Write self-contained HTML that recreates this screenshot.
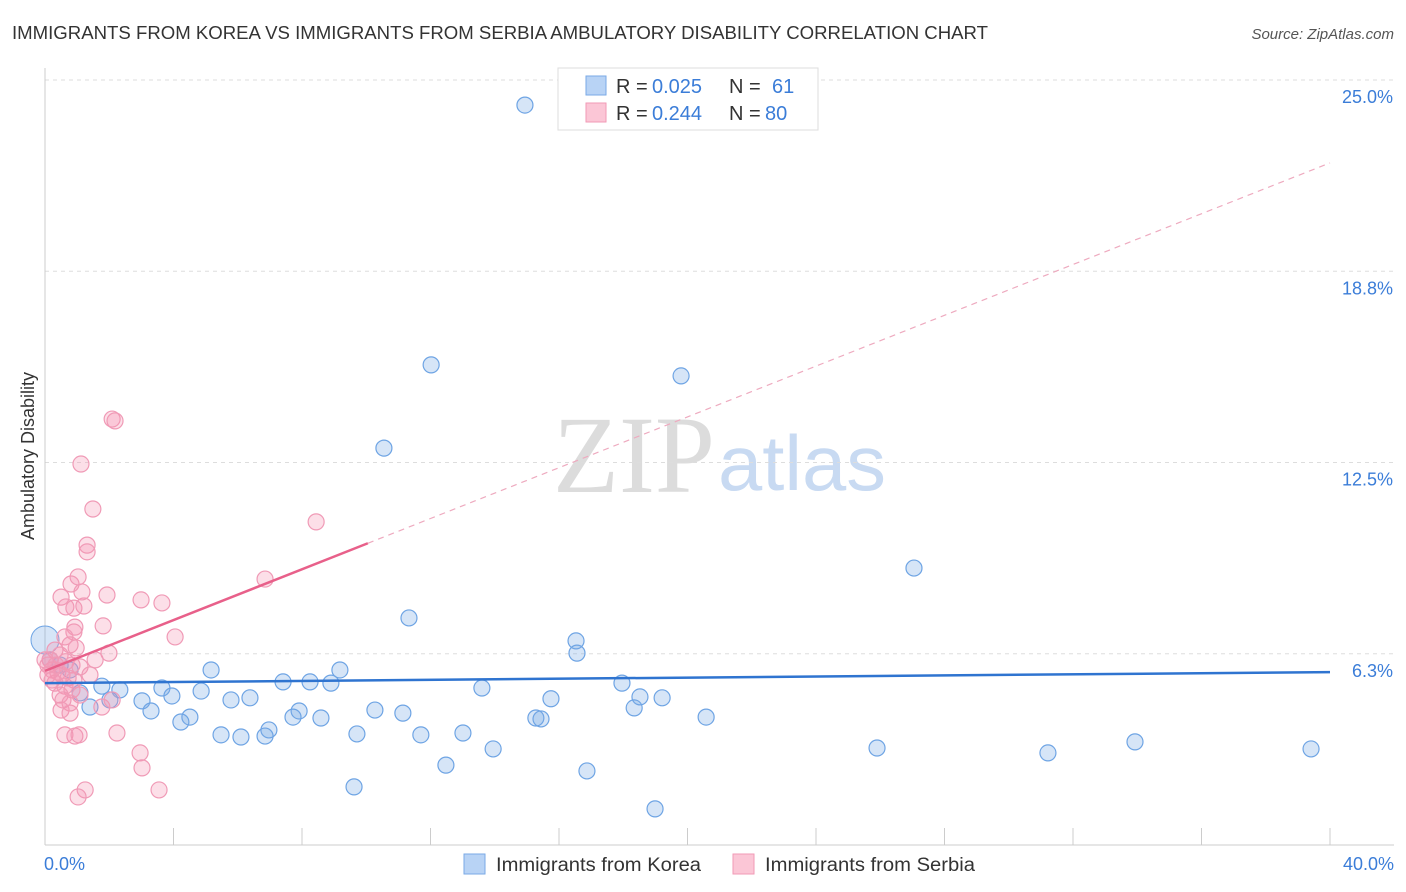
<!DOCTYPE html>
<html><head><meta charset="utf-8">
<style>
body{margin:0;background:#fff;font-family:"Liberation Sans",sans-serif;}
#wrap{position:relative;width:1406px;height:892px;overflow:hidden;}
</style></head>
<body>
<div id="wrap">
<svg id="svg" width="1406" height="892" xmlns="http://www.w3.org/2000/svg">
<text x="12" y="39" font-size="18" fill="#333" textLength="976" lengthAdjust="spacingAndGlyphs">IMMIGRANTS FROM KOREA VS IMMIGRANTS FROM SERBIA AMBULATORY DISABILITY CORRELATION CHART</text>
<text x="1394" y="39" font-size="15" fill="#555" font-style="italic" text-anchor="end">Source: ZipAtlas.com</text>
<text x="553" y="492" font-size="110" fill="#dcdcdc" font-family="Liberation Serif, serif" textLength="162" lengthAdjust="spacingAndGlyphs">ZIP</text>
<text x="718" y="490" font-size="78" fill="#c8daf2" textLength="168" lengthAdjust="spacingAndGlyphs">atlas</text>
<text x="34" y="456" font-size="18" fill="#333" text-anchor="middle" transform="rotate(-90 34 456)">Ambulatory Disability</text>
<g id="grid"></g><g id="axes"></g><g id="pts"></g><g id="lines"></g>
<g>
<rect x="558" y="68" width="260" height="62" fill="#fff" stroke="#ddd"/>
<rect x="586" y="76" width="20" height="19" fill="#b8d3f5" stroke="#7aaae6"/>
<rect x="586" y="103" width="20" height="19" fill="#fbc6d6" stroke="#f29ab6"/>
<text x="616" y="93" font-size="20" fill="#333">R =</text>
<text x="652" y="93" font-size="20" fill="#3b7dd8">0.025</text>
<text x="729" y="93" font-size="20" fill="#333">N =</text>
<text x="772" y="93" font-size="20" fill="#3b7dd8">61</text>
<text x="616" y="120" font-size="20" fill="#333">R =</text>
<text x="652" y="120" font-size="20" fill="#3b7dd8">0.244</text>
<text x="729" y="120" font-size="20" fill="#333">N =</text>
<text x="765" y="120" font-size="20" fill="#3b7dd8">80</text>
</g>
<g>
<rect x="464" y="854" width="21" height="20" fill="#b8d3f5" stroke="#7aaae6"/>
<text x="496" y="871" font-size="19" fill="#333" textLength="205" lengthAdjust="spacingAndGlyphs">Immigrants from Korea</text>
<rect x="733" y="854" width="21" height="20" fill="#fbc6d6" stroke="#f29ab6"/>
<text x="765" y="871" font-size="19" fill="#333" textLength="210" lengthAdjust="spacingAndGlyphs">Immigrants from Serbia</text>
</g>
</svg>
</div>
<script>
const yTicks=[25.0,18.8,12.5,6.3];
const yTickVals=[25,18.75,12.5,6.25];
const xTickLabels=["0.0%","40.0%"];
const koreaX=[14.94,12.02,19.80,10.55,27.05,11.33,16.53,16.56,5.17,9.18,7.41,8.25,8.90,1.77,3.64,2.33,1.09,17.96,13.60,4.86,3.02,3.95,6.38,5.79,15.75,18.52,19.21,2.02,1.40,3.30,10.27,7.91,11.14,18.34,7.72,8.59,4.51,4.23,15.28,15.44,20.58,6.97,6.85,5.48,6.10,9.71,11.70,13.01,13.95,25.90,31.22,33.93,39.41,12.48,16.87,9.62,18.99,0.16,0.47,0.78];
const koreaY=[24.18,15.69,15.33,12.97,9.05,7.42,6.67,6.27,5.72,5.72,5.33,5.33,5.29,5.19,5.13,5.07,4.97,5.29,5.13,5.03,4.71,4.87,4.81,4.74,4.78,4.84,4.81,4.74,4.51,4.38,4.41,4.38,4.31,4.48,4.18,4.15,4.18,4.02,4.15,4.12,4.18,3.76,3.56,3.60,3.53,3.63,3.60,3.66,3.14,3.17,3.01,3.37,3.14,2.61,2.42,1.90,1.18,6.05,5.88,5.72];
const serbiaX=[2.09,2.18,1.12,1.49,8.44,1.31,1.31,6.85,0.81,1.03,0.50,1.93,2.99,3.64,0.65,0.90,1.21,1.15,1.81,0.93,0.90,4.05,0.62,0.78,0.97,1.99,0.31,0.47,0.16,1.56,0.65,0.84,1.09,0.09,0.22,0.40,0.53,0.72,0.90,1.40,0.31,0.62,0.84,1.09,0.47,0.56,0.78,1.77,2.09,0.50,0.78,2.24,0.62,0.93,1.06,2.96,3.02,3.55,1.25,1.03,0,0.09,0.22,0.34];
const serbiaY=[13.92,13.86,12.45,10.98,10.56,9.80,9.58,8.69,8.53,8.76,8.10,8.17,8.01,7.91,7.78,7.74,7.81,8.27,7.16,7.12,6.96,6.80,6.80,6.54,6.44,6.27,6.37,6.21,6.05,6.05,5.99,5.88,5.82,5.88,5.72,5.65,5.56,5.46,5.39,5.56,5.29,5.19,5.07,4.90,4.90,4.74,4.64,4.51,4.74,4.41,4.31,3.66,3.60,3.56,3.60,3.01,2.52,1.80,1.80,1.57,6.05,5.56,5.39,5.88];
const koreaTrend=[5.29,5.65];
const serbiaTrend=[5.69,22.29];
const serbiaSolidEnd=10.05;
const NS="http://www.w3.org/2000/svg";
const X=v=>45+v/40*1285, Y=v=>80+(25-v)/25*765;
function mk(t,a,p){const e=document.createElementNS(NS,t);for(const k in a)e.setAttribute(k,a[k]);p.appendChild(e);return e;}
const grid=document.getElementById('grid'),axes=document.getElementById('axes'),pts=document.getElementById('pts'),lines=document.getElementById('lines');
yTickVals.forEach((v,i)=>{
 const l=mk('line',{x1:45,x2:1394,y1:Y(v),y2:Y(v),stroke:'#ddd','stroke-dasharray':'4,4'},grid);
 
 
 const t=mk('text',{x:1393,y:Y(v)+23,'font-size':18,fill:'#3b7dd8','text-anchor':'end'},axes);
 t.textContent=yTicks[i].toFixed(1)+'%';
 
 
});
const ax=mk('line',{x1:45,x2:45,y1:68,y2:845,stroke:'#ccc'},axes);


const bx=mk('line',{x1:45,x2:1394,y1:845,y2:845,stroke:'#ccc'},axes);


for(let i=0;i<=10;i++){const t=mk('line',{x1:X(i*4),x2:X(i*4),y1:828,y2:845,stroke:'#ccc'},axes);
 
 }
[[0,'start',44],[40,'end',1394]].forEach((d,i)=>{const t=mk('text',{x:d[2],y:870,'font-size':18,fill:'#3b7dd8','text-anchor':d[1]},axes);t.textContent=xTickLabels[i];
 
 });
koreaX.forEach((x,i)=>{const c=mk('circle',{cx:X(x),cy:Y(koreaY[i]),r:8,fill:'rgba(120,170,230,0.3)',stroke:'#6ea4e4','stroke-width':1.2},pts);
 
 });
const big=mk('circle',{cx:X(0),cy:Y(6.7),r:14,fill:'rgba(120,170,230,0.3)',stroke:'#6ea4e4'},pts);


serbiaX.forEach((x,i)=>{const c=mk('circle',{cx:X(x),cy:Y(serbiaY[i]),r:8,fill:'rgba(244,150,180,0.3)',stroke:'#f09ab6','stroke-width':1.2},pts);
 
 });
const kl=mk('line',{x1:X(0),y1:Y(koreaTrend[0]),x2:X(40),y2:Y(koreaTrend[1]),stroke:'#2f74d0','stroke-width':2.5},lines);


const sAt=x=>serbiaTrend[0]+(serbiaTrend[1]-serbiaTrend[0])*x/40;
const sl=mk('line',{x1:X(0),y1:Y(sAt(0)),x2:X(serbiaSolidEnd),y2:Y(sAt(serbiaSolidEnd)),stroke:'#e8608a','stroke-width':2.5},lines);


const sd=mk('line',{x1:X(serbiaSolidEnd),y1:Y(sAt(serbiaSolidEnd)),x2:X(40),y2:Y(sAt(40)),stroke:'#eeaabf','stroke-width':1.2,'stroke-dasharray':'6,5'},lines);


</script>
</body></html>
